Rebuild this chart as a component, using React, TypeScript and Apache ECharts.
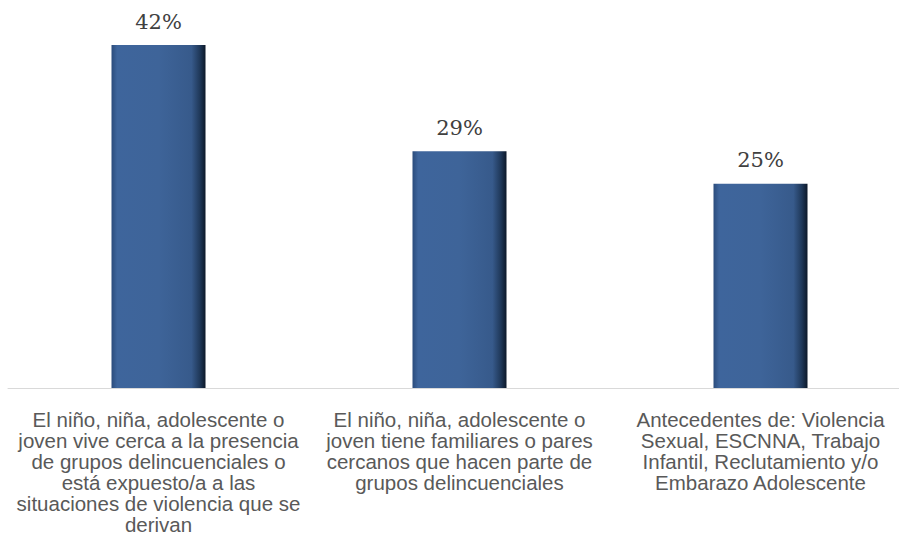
import React, { useEffect, useRef } from "react";
import * as echarts from "echarts";

const categories: string[] = [
  "El niño, niña, adolescente o\njoven vive cerca a la presencia\nde grupos delincuenciales o\nestá expuesto/a a las\nsituaciones de violencia que se\nderivan",
  "El niño, niña, adolescente o\njoven tiene familiares o pares\ncercanos que hacen parte de\ngrupos delincuenciales",
  "Antecedentes de: Violencia\nSexual, ESCNNA, Trabajo\nInfantil, Reclutamiento y/o\nEmbarazo Adolescente",
];
const values: number[] = [42, 29, 25];

export default function App() {
  const ref = useRef<HTMLDivElement>(null);
  useEffect(() => {
    if (!ref.current) return;
    const chart = echarts.init(ref.current, null, { renderer: "svg" });
    chart.setOption({
      animation: false,
      grid: {
        left: 8,
        width: 903,
        top: 45,
        bottom: 156,
        containLabel: false,
        outerBoundsMode: "none",
      },
      xAxis: {
        type: "category",
        data: categories,
        axisLine: { show: true, lineStyle: { color: "#d9d9d9", width: 1 } },
        axisTick: { show: false },
        axisLabel: {
          interval: 0,
          margin: 21,
          color: "#595959",
          fontFamily: "Liberation Sans, Arial, sans-serif",
          fontSize: 20.5,
          lineHeight: 21,
          align: "center",
        },
      },
      yAxis: {
        type: "value",
        min: 0,
        max: 42,
        show: false,
        splitLine: { show: false },
      },
      series: [
        {
          type: "bar",
          data: values,
          barWidth: 94,
          itemStyle: {
            color: new echarts.graphic.LinearGradient(0, 0, 1, 0, [
              { offset: 0, color: "#2b4c7c" },
              { offset: 0.06, color: "#3e659c" },
              { offset: 0.5, color: "#3e6499" },
              { offset: 0.85, color: "#375a8b" },
              { offset: 0.94, color: "#1f3859" },
              { offset: 1, color: "#0c1829" },
            ]),
          },
          label: {
            show: true,
            position: "top",
            distance: 13,
            formatter: "{c}%",
            color: "#404040",
            fontFamily: "DejaVu Serif, serif",
            fontSize: 21,
          },
        },
      ],
    });
    return () => chart.dispose();
  }, []);
  return <div ref={ref} style={{ width: 899, height: 544, position: "absolute", left: 0, top: 0 }} />;
}
